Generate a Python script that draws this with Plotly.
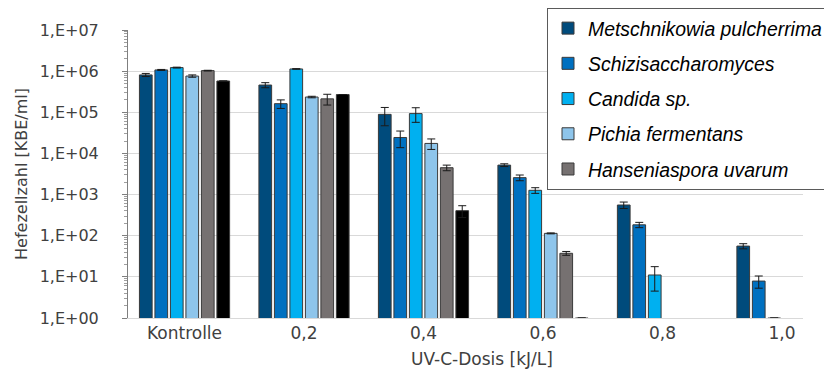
import plotly.graph_objects as go

categories = ["Kontrolle", "0,2", "0,4", "0,6", "0,8", "1,0"]
series_names = ["Metschnikowia pulcherrima", "Schizisaccharomyces", "Candida sp.",
                "Pichia fermentans", "Hanseniaspora uvarum", "Hanseniaspora (Ref.)"]

metschnikowia = [8.1e5, 4.6e5, 8.9e4, 5.2e3, 558, 56]
metschnikowia_err = [7e4, 6.5e4, 4.2e4, 4e2, 100, 8]
schizisaccharomyces = [1.07e6, 1.62e5, 2.44e4, 2.58e3, 184, 7.9]
schizisaccharomyces_err = [3e4, 3.8e4, 1.06e4, 4.1e2, 27, 2.6]
candida = [1.22e6, 1.13e6, 9.3e4, 1.27e3, 11.1, 1]
candida_err = [3e4, 2e4, 3.6e4, 2e2, 6.6, 0]
pichia = [7.6e5, 2.35e5, 1.75e4, 114, None, None]
pichia_err = [5e4, 1e4, 5e3, 3, 0, 0]
hanseniaspora = [1.03e6, 2.12e5, 4.5e3, 37.4, None, None]
hanseniaspora_err = [2e4, 6.2e4, 7e2, 4, 0, 0]
black_series = [5.76e5, 2.7e5, 406, 1, None, None]
black_series_err = [0, 0, 130, 0, 0, 0]

y_tickvals = [1, 10, 100, 1e3, 1e4, 1e5, 1e6, 1e7]
y_ticktext = ["1,E+00", "1,E+01", "1,E+02", "1,E+03", "1,E+04", "1,E+05", "1,E+06", "1,E+07"]

values = [metschnikowia, schizisaccharomyces, candida, pichia, hanseniaspora, black_series]
errors = [metschnikowia_err, schizisaccharomyces_err, candida_err, pichia_err,
          hanseniaspora_err, black_series_err]
colors = ["#004B7C", "#0070C0", "#00B0F0", "#8EC5EB", "#767171", "#000000"]

fig = go.Figure()
for i, (name, vals, errs, col) in enumerate(zip(series_names, values, errors, colors)):
    fig.add_trace(go.Bar(
        x=categories, y=vals, name=name,
        marker=dict(color=col, line=dict(color="#3A3A3A", width=1)),
        error_y=dict(type="data", array=errs, visible=True, color="#1A1A1A",
                     thickness=1, width=4),
        showlegend=(i < 5), legendgroup=f"g{i}",
    ))

W, H = 824, 366  # page body has an 8px margin
fig.update_layout(
    width=W, height=H,
    margin=dict(l=120, r=29, t=22, b=56, autoexpand=False),
    paper_bgcolor="white", plot_bgcolor="white",
    barmode="group", bargap=0.222, bargroupgap=0.18,
    font=dict(family="DejaVu Sans", color="#404040"),
    legend=dict(
        xref="container", yref="container", x=539 / W, y=1 + 3 / H,
        xanchor="left", yanchor="top",
        bgcolor="white", bordercolor="#5A5A5A", borderwidth=1,
        font=dict(family="Liberation Sans", size=19.4, style="italic", color="#000000"),
        traceorder="grouped", tracegroupgap=7, itemwidth=30,
    ),
    xaxis=dict(
        type="category", range=[-0.473, 5.176],
        showline=True, linecolor="#D9D9D9", linewidth=1,
        ticks="", tickfont=dict(size=17, color="#404040"),
        showgrid=False,
    ),
    yaxis=dict(
        type="log", range=[0, 7],
        tickvals=y_tickvals, ticktext=y_ticktext,
        tickfont=dict(size=16, color="#404040"),
        ticks="outside", ticklen=5, tickcolor="#7F7F7F",
        ticklabelstandoff=20,
        showline=True, linecolor="#7F7F7F", linewidth=1,
        showgrid=True, gridcolor="#D9D9D9", gridwidth=1,
        minor=dict(ticks="outside", ticklen=3, tickcolor="#9F9F9F", dtick="D1", showgrid=False),
        title=dict(text="Hefezellzahl [KBE/ml]", font=dict(size=16, color="#404040"), standoff=8),
        zeroline=False,
    ),
    annotations=[dict(
        text="UV-C-Dosis [kJ/L]", xref="paper", yref="paper",
        x=(482 - 128) / 675, y=(318 - 359) / 288, xanchor="center", yanchor="middle",
        showarrow=False, font=dict(size=17, color="#404040"),
    )],
)

fig.write_html("out.html")
